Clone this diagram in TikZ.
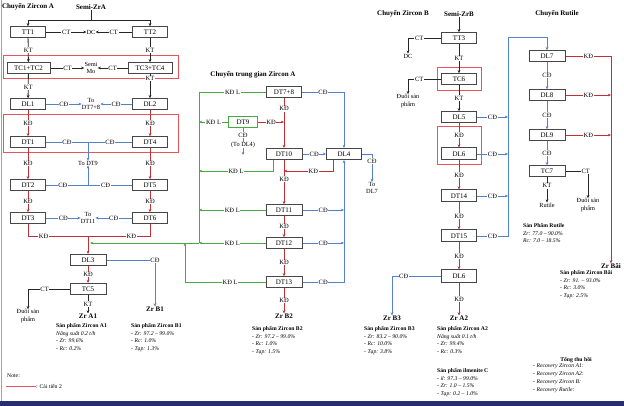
\documentclass[tikz,border=0pt]{standalone}
\usepackage{fontspec}
\setmainfont{Liberation Serif}
\usetikzlibrary{arrows.meta,positioning}
\definecolor{lnblue}{RGB}{84,130,200}
\definecolor{lnred}{RGB}{190,50,55}
\definecolor{lngreen}{RGB}{70,170,60}
\definecolor{boxgray}{RGB}{70,70,70}
\definecolor{markred}{RGB}{232,84,92}
\definecolor{navybar}{RGB}{40,44,118}
\tikzset{
  unit/.style={draw=boxgray, line width=1pt, fill=white, minimum width=35, minimum height=10.5, inner sep=0pt, font=\fontsize{7}{7}\selectfont},
  unitG/.style={unit, draw=lngreen},
  lbl/.style={fill=white, inner sep=0.7pt, font=\fontsize{6.5}{6.5}\selectfont},
  txt/.style={align=center, inner sep=0pt, font=\fontsize{6.3}{7.5}\selectfont},
  ttl/.style={inner sep=0pt, font=\bfseries\fontsize{7}{7}\selectfont},
  prod/.style={anchor=north west, align=left, inner sep=0pt, font=\fontsize{5.7}{7.7}\selectfont},
  redframe/.style={draw=markred, line width=1pt},
  flowK/.style={draw=black!85, line width=0.8pt},
  flowR/.style={draw=lnred, line width=0.8pt},
  flowB/.style={draw=lnblue, line width=0.8pt},
  flowG/.style={draw=lngreen, line width=0.9pt},
  tip/.style={-{Stealth[length=3.2pt,width=2.8pt]}}
}
\begin{document}
\begin{tikzpicture}[x=1pt,y=-1pt]
  \useasboundingbox (0,0) rectangle (624,406);
  \fill[navybar] (0,401) rectangle (624,406);
  \draw[blue!25!gray!60, line width=0.8pt] (1,0) -- (1,401);

  % Chuyen Zircon A
  \node[ttl] (ttlA) at (28,7) {Chuyển Zircon A};
  \node[ttl] (semiA) at (91,7) {Semi-ZrA};
  \coordinate (splitA) at (91,20);
  \node[unit] (TT1) at (28,32) {TT1};
  \node[unit] (TT2) at (150,32) {TT2};
  \node[txt] (DC1) at (91,32) {DC};
  \draw[flowK] (semiA) -- (splitA);
  \draw[flowK,tip] (splitA) -| (TT1);
  \draw[flowK,tip] (splitA) -| (TT2);
  \draw[flowK,tip] (TT1) -- node[lbl]{CT} (DC1);
  \draw[flowK,tip] (TT2) -- node[lbl]{CT} (DC1);

  \draw[redframe] (3,56) rectangle (178,79);
  \node[unit, minimum width=43] (TC12) at (28.5,68) {TC1+TC2};
  \node[unit, minimum width=44] (TC34) at (150,68) {TC3+TC4};
  \node[txt] (semiMo) at (91,68) {Semi\\Mo};
  \draw[flowK,tip] (TT1) -- node[lbl]{KT} (TC12);
  \draw[flowK,tip] (TT2) -- node[lbl]{KT} (TC34);
  \draw[flowK,tip] (TC12) -- node[lbl]{CT} (semiMo);
  \draw[flowK,tip] (TC34) -- node[lbl]{CT} (semiMo);

  \node[unit] (DL1) at (28,104) {DL1};
  \node[unit] (DL2) at (150,104) {DL2};
  \node[txt] (toDT78) at (91,104) {To\\DT7+8};
  \draw[flowK,tip] (TC12) -- node[lbl, pos=0.55]{KT} (DL1);
  \draw[flowK,tip] (TC34) -- node[lbl, pos=0.2]{KT} (DL2);
  \draw[flowB,tip] (DL1) -- node[lbl]{CĐ} (toDT78);
  \draw[flowB,tip] (DL2) -- node[lbl]{CĐ} (toDT78);

  \draw[redframe] (3,115) rectangle (178,153);
  \node[unit] (DT1) at (28,142) {DT1};
  \node[unit] (DT4) at (150,142) {DT4};
  \draw[flowR,tip] (DL1) -- node[lbl]{KĐ} (DT1);
  \draw[flowR,tip] (DL2) -- node[lbl]{KĐ} (DT4);

  \node[txt] (toDT9) at (88,163) {To DT9};
  \coordinate (jA1) at (88,142);
  \coordinate (jA2) at (88,185);
  \node[unit] (DT2) at (28,185) {DT2};
  \node[unit] (DT5) at (150,185) {DT5};
  \draw[flowB] (DT1) -- node[lbl]{CĐ} (jA1);
  \draw[flowB] (DT4) -- node[lbl]{CĐ} (jA1);
  \draw[flowB,tip] (jA1) -- (toDT9);
  \draw[flowB] (DT2) -- node[lbl, pos=0.4]{CĐ} (jA2);
  \draw[flowB] (DT5) -- node[lbl, pos=0.6]{CĐ} (jA2);
  \draw[flowB,tip] (jA2) -- (toDT9);
  \draw[flowR,tip] (DT1) -- node[lbl]{KĐ} (DT2);
  \draw[flowR,tip] (DT4) -- node[lbl]{KĐ} (DT5);

  \node[unit] (DT3) at (28,218) {DT3};
  \node[unit] (DT6) at (150,218) {DT6};
  \node[txt] (toDT11) at (88,218) {To\\DT11};
  \draw[flowR,tip] (DT2) -- node[lbl]{KĐ} (DT3);
  \draw[flowR,tip] (DT5) -- node[lbl]{KĐ} (DT6);
  \draw[flowB,tip] (DT3) -- node[lbl]{CĐ} (toDT11);
  \draw[flowB,tip] (DT6) -- node[lbl]{CĐ} (toDT11);

  \coordinate (jA3) at (88,236);
  \node[unit, minimum width=36, minimum height=11] (DL3) at (88,260) {DL3};
  \draw[flowR] (DT3) |- node[lbl, pos=0.63]{KĐ} (jA3);
  \draw[flowR] (DT6) |- node[lbl, pos=0.65]{KĐ} (jA3);
  \draw[flowR,tip] (jA3) -- (DL3);

  \node[unit, minimum width=36, minimum height=11] (TC5) at (88,289) {TC5};
  \node[txt] (tailA) at (28,316) {Đuôi sản\\phẩm};
  \node[ttl] (ZrA1) at (88,316) {Zr A1};
  \node[ttl] (ZrB1) at (155,309) {Zr B1};
  \draw[flowR,tip] (DL3) -- node[lbl]{KĐ} (TC5);
  \draw[flowB,tip] (DL3) -| node[lbl]{CĐ} (ZrB1);
  \draw[flowK,tip] (TC5) -| node[lbl, pos=0.3]{CT} (tailA);
  \draw[flowK,tip] (TC5) -- node[lbl]{KT} (ZrA1);

  \node[prod] (prodA1) at (56,323) {\textbf{Sản phẩm Zircon A1}\\\textit{Năng suất 0.2 t/h}\\\textit{- Zr: 99.6\%}\\\textit{- Rc: 0.2\%}};
  \node[prod] (prodB1) at (131,323) {\textbf{Sản phẩm Zircon B1}\\\textit{- Zr: 97.2 – 99.0\%}\\\textit{- Rc: 1.0\%}\\\textit{- Tạp: 1.3\%}};

  \node[prod, font=\fontsize{5.7}{6}\selectfont] (noteHd) at (7,374) {Note:};
  \node[anchor=west, inner sep=0pt, font=\fontsize{5.7}{6}\selectfont] (noteTxt) at (36,386) {: Cải tiến 2};
  \draw[redframe] (6,386) -- (noteTxt.west);

  % Chuyen trung gian Zircon A
  \node[ttl] (ttlM) at (253,75) {Chuyển trung gian Zircon A};
  \node[unit] (DT78) at (284,92) {DT7+8};
  \node[unitG, minimum width=29, minimum height=11] (DT9) at (243,122) {DT9};
  \node[unit, minimum width=36, minimum height=11] (DT10) at (284,154) {DT10};
  \node[unit, minimum height=11] (DL4) at (344,154) {DL4};
  \node[unit, minimum width=36] (DT11) at (284,210) {DT11};
  \node[unit, minimum width=36] (DT12) at (284,243) {DT12};
  \node[unit, minimum width=36] (DT13) at (284,282) {DT13};
  \node[ttl] (ZrB2) at (284,316) {Zr B2};
  \node[txt] (toDL4) at (243,145) {(To DL4)};
  \node[txt] (toDL7) at (372,188) {To\\DL7};
  \coordinate (jB) at (284,122);
  \coordinate (jC) at (284,171);
  \coordinate (gTop) at (199,92);
  \coordinate (gA) at (199,243);
  \coordinate (feedA) at (90,243);

  \draw[flowG] (DT78) -- node[lbl]{KĐ L} (gTop) -- (gA);
  \draw[flowG,tip] (DT9) -- node[lbl]{KĐ L} (DT9 -| gTop);
  \draw[flowG,tip] ([xshift=-11pt]DT10.south) |- node[lbl, pos=0.75]{KĐ L} (gTop |- jC);
  \draw[flowG,tip] (DT11) -- node[lbl]{KĐ L} (DT11 -| gTop);
  \draw[flowG,tip] (DT12) -- node[lbl]{KĐ L} (gA);
  \draw[flowG,tip] (gA) -- (feedA);
  \draw[flowG,tip] (DT13) -| node[lbl, pos=0.22]{KĐ L} (185,243);

  \draw[flowR,tip] (DT78) -- node[lbl, pos=0.22]{KĐ} (DT10);
  \draw[flowR,tip] (DT9) -- node[lbl]{KĐ} (jB);
  \draw[flowR,tip] ([xshift=-11pt]DL4.south) |- node[lbl, pos=0.7]{KĐ} (jC);
  \draw[flowR,tip] (DT10) -- node[lbl, pos=0.43]{KĐ} (DT11);
  \draw[flowR,tip] (DT11) -- node[lbl]{KĐ} (DT12);
  \draw[flowR,tip] (DT12) -- node[lbl]{KĐ} (DT13);
  \draw[flowR,tip] (DT13) -- node[lbl]{KĐ} (ZrB2);

  \draw[flowB,tip] (DT78) -| node[lbl, pos=0.25]{CĐ} (DL4);
  \draw[flowB,tip] (DT10) -- node[lbl]{CĐ} (DL4);
  \draw[flowB,tip] (DT11) -- node[lbl]{CĐ} (DT11 -| DL4);
  \draw[flowB,tip] (DT12) -- node[lbl]{CĐ} (DT12 -| DL4);
  \draw[flowB,tip] (DT13) -| node[lbl, pos=0.25]{CĐ} (DL4);
  \draw[flowB,tip] (DL4) -| node[lbl, pos=0.63]{CĐ} (toDL7);
  \draw[flowB] (DT9) -- node[lbl]{CĐ} (toDL4);
  \draw[flowB,tip] (toDL4.south) -- ++(0,7);

  \node[prod] (prodB2) at (252,326) {\textbf{Sản phẩm Zircon B2}\\\textit{- Zr: 97.2 – 99.0\%}\\\textit{- Rc: 1.0\%}\\\textit{- Tạp: 1.5\%}};

  % Chuyen Zircon B
  \node[ttl] (ttlB) at (403,14) {Chuyển Zircon B};
  \node[ttl] (semiB) at (459,14) {Semi-ZrB};
  \node[unit] (TT3) at (459,38) {TT3};
  \node[txt] (DC2) at (408,56) {DC};
  \draw[flowK,tip] (semiB) -- (TT3);
  \draw[flowK,tip] (TT3) -| node[lbl, pos=0.33]{CT} (DC2);

  \draw[redframe] (437,68) rectangle (481,91);
  \node[unit] (TC6) at (459,79) {TC6};
  \node[txt] (tailB) at (408,101) {Đuôi sản\\phẩm};
  \draw[flowK,tip] (TT3) -- node[lbl]{KT} (TC6);
  \draw[flowK,tip] (TC6) -| node[lbl, pos=0.33]{CT} (tailB);

  \coordinate (busB) at (508,37);
  \node[unit] (DL5) at (459,117) {DL5};
  \draw[flowK,tip] (TC6) -- node[lbl]{KT} (DL5);
  \draw[flowB,tip] (DL5) -- node[lbl]{CĐ} (DL5 -| busB);

  \draw[redframe] (437,127) rectangle (481,165);
  \node[unit, minimum height=12] (DL6a) at (459,154) {DL6};
  \node[unit, minimum height=12] (DT14) at (459,196) {DT14};
  \node[unit, minimum height=12] (DT15) at (459,236) {DT15};
  \node[unit, minimum height=12] (DL6b) at (459,276) {DL6};
  \draw[flowR,tip] (DL5) -- node[lbl]{KĐ} (DL6a);
  \draw[flowR,tip] (DL6a) -- node[lbl]{KĐ} (DT14);
  \draw[flowR,tip] (DT14) -- node[lbl]{KĐ} (DT15);
  \draw[flowR,tip] (DT15) -- node[lbl]{KĐ} (DL6b);
  \draw[flowB,tip] (DL6a) -- node[lbl]{CĐ} (DL6a -| busB);
  \draw[flowB,tip] (DT14) -- node[lbl]{CĐ} (DT14 -| busB);

  \node[ttl] (ZrB3) at (392,318) {Zr B3};
  \node[ttl] (ZrA2) at (459,318) {Zr A2};
  \draw[flowB,tip] (DL6b) -| node[lbl, pos=0.38]{CĐ} (ZrB3);
  \draw[flowR,tip] (DL6b) -- node[lbl]{KĐ} (ZrA2);

  \node[prod] (prodB3) at (364,326) {\textbf{Sản phẩm Zircon B3}\\\textit{- Zr: 83.2 – 90.0\%}\\\textit{- Rc: 10.0\%}\\\textit{- Tạp: 3.8\%}};
  \node[prod] (prodA2) at (437,326) {\textbf{Sản phẩm Zircon A2}\\\textit{Năng suất 0.1 t/h}\\\textit{- Zr: 99.4\%}\\\textit{- Rc: 0.3\%}};
  \node[prod] (prodIlm) at (437,368) {\textbf{Sản phẩm ilmenite C}\\\textit{- il: 97.3 – 99.0\%}\\\textit{- Zr: 1.0 – 1.5\%}\\\textit{- Tạp: 0.2 – 1.0\%}};

  % Chuyen Rutile
  \node[ttl] (ttlR) at (557,14) {Chuyển Rutile};
  \node[unit, minimum width=36] (DL7) at (547,56) {DL7};
  \node[unit, minimum width=36] (DL8) at (547,95) {DL8};
  \node[unit, minimum width=36] (DL9) at (547,135) {DL9};
  \node[unit, minimum width=36] (TC7) at (547,171) {TC7};
  \draw[flowB,tip] (DT15) -| node[lbl, pos=0.25]{CĐ} (busB) -| (DL7);
  \draw[flowB,tip] (DL7) -- node[lbl]{CĐ} (DL8);
  \draw[flowB,tip] (DL8) -- node[lbl]{CĐ} (DL9);
  \draw[flowB,tip] (DL9) -- node[lbl]{CĐ} (TC7);

  \node[ttl] (ZrBai) at (611,266) {Zr Bãi};
  \draw[flowR,tip] (DL7) -| node[lbl, pos=0.25]{KĐ} (ZrBai);
  \draw[flowR,tip] (DL8) -- node[lbl]{KĐ} (DL8 -| ZrBai);
  \draw[flowR,tip] (DL9) -- node[lbl]{KĐ} (DL9 -| ZrBai);

  \node[txt] (tailR) at (588,205) {Đuôi sản\\phẩm};
  \node[txt] (rutile) at (547,205) {Rutile};
  \draw[flowK,tip] (TC7) -| node[lbl, pos=0.45]{CT} (tailR);
  \draw[flowK,tip] (TC7) -- node[lbl, pos=0.35]{KT} (rutile);

  \node[prod] (prodR) at (523,223) {\textbf{Sản Phẩm Rutile}\\\textit{Zr: 77.0 – 90.0\%}\\\textit{Rc: 7.0 – 18.5\%}};
  \node[prod] (prodBai) at (560,270) {\textbf{Sản phẩm Zircon Bãi}\\\textit{- Zr: 91. – 93.0\%}\\\textit{- Rc: 3.0\%}\\\textit{- Tạp: 2.5\%}};

  \node[ttl, font=\bfseries\fontsize{5.7}{6}\selectfont] (ttlSum) at (576,360) {Tổng thu hồi};
  \node[prod] (sumList) at (533,364) {\textit{- Recovery Zircon A1:}\\\textit{- Recovery Zircon A2:}\\\textit{- Recovery Zircon B:}\\\textit{- Recovery Rutile:}};
\end{tikzpicture}
\end{document}
